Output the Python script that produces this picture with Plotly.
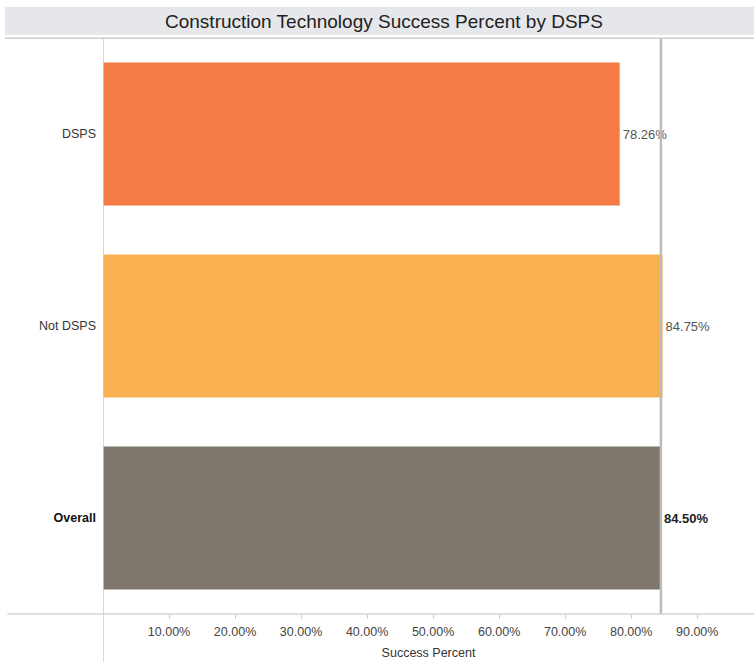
import plotly.graph_objects as go

# Success percent by DSPS status
categories = ["DSPS", "Not DSPS", "Overall"]
success_pct = [78.26, 84.75, 84.50]
bar_colors = ["#F57B45", "#F9B050", "#7F766D"]
tick_vals = [10, 20, 30, 40, 50, 60, 70, 80, 90]
tick_text = ["10.00%", "20.00%", "30.00%", "40.00%", "50.00%",
             "60.00%", "70.00%", "80.00%", "90.00%"]
overall_ref = 84.50

bar_labels = []
for cat, v in zip(categories, success_pct):
    s = f"{v:.2f}%"
    if cat == "Overall":
        s = f"<b><span style='color:#222'>{s}</span></b>"
    bar_labels.append(s)

cat_labels = [c if c != "Overall" else "<b><span style='color:#111'>Overall</span></b>"
              for c in categories]

fig = go.Figure()
fig.add_trace(go.Bar(
    x=success_pct,
    y=categories,
    orientation="h",
    marker=dict(color=bar_colors, line=dict(width=0)),
    width=0.745,
    text=bar_labels,
    textposition="outside",
    textfont=dict(family="Liberation Sans, Arial", size=13, color="#555555"),
    cliponaxis=False,
    hoverinfo="skip",
))

# overall reference line
fig.add_shape(type="line", xref="x", yref="paper", x0=overall_ref, x1=overall_ref,
              y0=0, y1=1, line=dict(color="#BBBBBB", width=2.5), layer="above")

# title band and frame lines
fig.add_shape(type="rect", xref="paper", yref="paper", x0=-0.1505, x1=1.0,
              y0=1.0052, y1=1.0538, fillcolor="#E6E7EA", line=dict(width=0), layer="below")
fig.add_shape(type="line", xref="paper", yref="paper", x0=-0.1505, x1=1.0,
              y0=0.9995, y1=0.9995, line=dict(color="#CCCCCC", width=1.5))
fig.add_shape(type="line", xref="paper", yref="paper", x0=-0.147, x1=1.0,
              y0=0, y1=0, line=dict(color="#D4D4D4", width=1.5))
fig.add_shape(type="line", xref="x", yref="paper", x0=0, x1=0,
              y0=-0.0833, y1=1, line=dict(color="#CCCCCC", width=1.5))

fig.add_annotation(text="Construction Technology Success Percent by DSPS",
                   xref="paper", yref="paper", x=0.4324, y=1.0295,
                   showarrow=False, xanchor="center", yanchor="middle",
                   font=dict(family="Liberation Sans, Arial", size=19, color="#222222"))

fig.update_layout(
    width=754, height=662,
    margin=dict(l=103, r=0, t=38, b=48),
    paper_bgcolor="white", plot_bgcolor="white",
    showlegend=False,
    font=dict(family="Liberation Sans, Arial", size=12.5, color="#444444"),
    xaxis=dict(
        range=[0, 98.6],
        tickvals=tick_vals, ticktext=tick_text,
        ticks="outside", ticklen=4, tickcolor="#CCCCCC",
        ticklabelstandoff=2,
        showgrid=False, zeroline=False, showline=False,
        tickfont=dict(size=12.5, color="#444444"),
        title=dict(text="Success Percent", standoff=10,
                   font=dict(size=12.5, color="#333333")),
        fixedrange=True,
    ),
    yaxis=dict(
        range=[2.5, -0.5],
        tickvals=categories, ticktext=cat_labels,
        showgrid=False, zeroline=False, showline=False,
        ticks="", ticklabelstandoff=6,
        tickfont=dict(size=12.5, color="#333333"),
        fixedrange=True,
    ),
)

fig.write_html("out.html")
